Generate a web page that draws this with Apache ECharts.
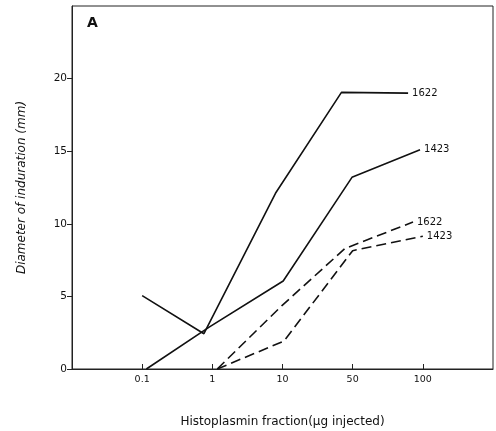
<!DOCTYPE html>
<html><head><meta charset="utf-8">
<script src="https://cdn.jsdelivr.net/npm/echarts@6/dist/echarts.min.js"></script>
<style>html,body{margin:0;padding:0;background:#fff}#c{width:496px;height:431px}</style>
</head><body><div id="c"></div>
<script>
// x positions are dose-category indices: 1=0.1, 2=1, 3=10, 4=50, 5=100
var tickLabels = ['0.1', '1', '10', '50', '100'];
var tickPositions = [1, 2, 3, 4, 5];
var yTicks = [0, 5, 10, 15, 20];

var solid1622X = [1.0, 1.88, 2.9, 3.84, 4.79];
var solid1622Y = [5.05, 2.43, 12.1, 19.05, 19.0];
var solid1423X = [1.06, 1.96, 3.01, 3.99, 4.96];
var solid1423Y = [0, 2.9, 6.06, 13.2, 15.1];
var dashed1622X = [2.07, 3.0, 3.89, 4.86];
var dashed1622Y = [0, 4.4, 8.3, 10.12];
var dashed1423X = [2.07, 3.02, 4.0, 5.0];
var dashed1423Y = [0, 1.92, 8.15, 9.14];

function pts(xs, ys) { return xs.map(function (x, i) { return [x, ys[i]]; }); }
var FONT = 'DejaVu Sans';

function mk(name, xs, ys, dashed) {
  return {
    name: name, type: 'line', data: pts(xs, ys), symbol: 'none', silent: true,
    lineStyle: { color: '#111', width: 1.6, type: dashed ? [10, 5] : 'solid' },
    endLabel: { show: true, formatter: name, color: '#111', fontFamily: FONT, fontSize: 10, letterSpacing: 0.6, distance: 4 },
    animation: false
  };
}

var chart = echarts.init(document.getElementById('c'));
chart.setOption({
  animation: false,
  grid: { left: 72, right: 3, top: 6, bottom: 62, show: true, borderColor: '#222', borderWidth: 1, outerBoundsMode: 'none', containLabel: false },
  xAxis: {
    type: 'value', min: 0, max: 6,
    name: 'Histoplasmin fraction(\u03bcg injected)', nameLocation: 'middle', nameGap: 47,
    nameTextStyle: { color: '#111', fontFamily: FONT, fontSize: 12 },
    splitLine: { show: false },
    axisLine: { lineStyle: { color: '#222', width: 1 } },
    axisTick: { inside: true, length: 5, customValues: tickPositions, lineStyle: { color: '#222' } },
    axisLabel: {
      customValues: tickPositions, margin: 6, color: '#111', fontFamily: FONT, fontSize: 9.5,
      formatter: function (v) { return tickLabels[Math.round(v) - 1]; }
    }
  },
  yAxis: {
    type: 'value', min: 0, max: 25,
    name: 'Diameter of induration (mm)', nameLocation: 'middle', nameGap: 44, nameRotate: 90,
    nameTextStyle: { color: '#111', fontFamily: FONT, fontSize: 12, fontStyle: 'italic', letterSpacing: 1 },
    splitLine: { show: false },
    axisLine: { show: true, lineStyle: { color: '#222', width: 1 } },
    axisTick: { show: true, inside: false, length: 5, customValues: yTicks, lineStyle: { color: '#222' } },
    axisLabel: { customValues: yTicks, margin: 5, color: '#111', fontFamily: FONT, fontSize: 10.5 }
  },
  graphic: [{ type: 'text', left: 87, top: 16, style: { text: 'A', font: 'bold 14px ' + FONT, fill: '#111' } }],
  series: [
    mk('1622', solid1622X, solid1622Y, false),
    mk('1423', solid1423X, solid1423Y, false),
    mk('1622', dashed1622X, dashed1622Y, true),
    mk('1423', dashed1423X, dashed1423Y, true)
  ]
});
</script></body></html>
